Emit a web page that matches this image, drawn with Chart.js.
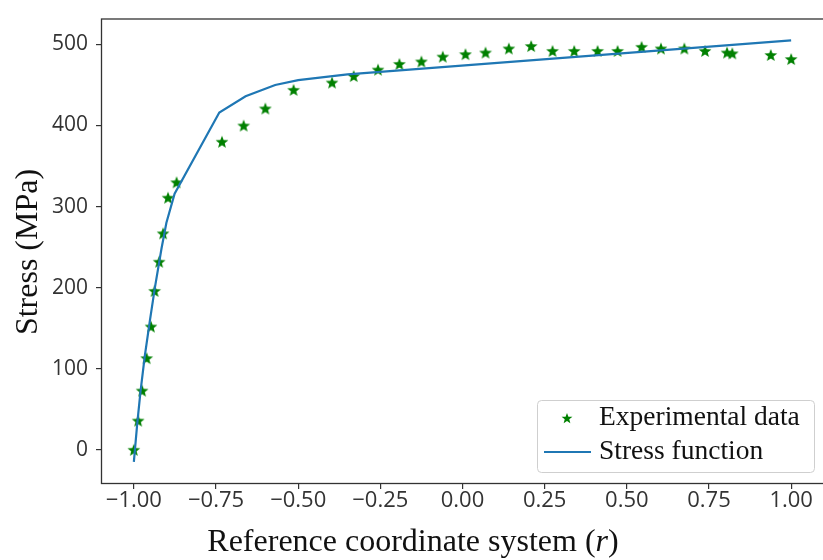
<!DOCTYPE html>
<html>
<head>
<meta charset="utf-8">
<script src="https://cdn.jsdelivr.net/npm/chart.js@4.4.1/dist/chart.umd.min.js"></script>
<style>
    html, body { margin: 0; padding: 0; background: #fff; overflow: hidden; }
    #wrap { position: relative; width: 829px; height: 560px; }
</style>
</head>
<body>
<div id="wrap"><canvas id="stress-chart"></canvas></div>
<script>
// --- Data ---
// Experimental points: reference coordinate r and stress (MPa)
const expR = [-1.0, -0.987, -0.975, -0.961, -0.948, -0.937, -0.923, -0.911, -0.896, -0.870,
    -0.732, -0.666, -0.600, -0.514, -0.397, -0.331, -0.257, -0.192, -0.125, -0.060,
    0.009, 0.070, 0.141, 0.209, 0.274, 0.340, 0.411, 0.472, 0.545, 0.604,
    0.675, 0.738, 0.805, 0.821, 0.938, 1.0];
const expStress = [0, 36, 73, 113, 152, 196, 232, 267, 311, 330,
    380, 400, 421, 444, 453, 461, 469, 476, 479, 485,
    488, 490, 495, 498, 492, 492, 492, 492, 497, 495,
    495, 492, 490, 489, 487, 482];

// Fitted stress function (polyline)
const fitR = [-1.0, -0.99, -0.98, -0.967, -0.951, -0.936, -0.916, -0.901, -0.876,
    -0.74, -0.66, -0.57, -0.50, -0.35, 1.0];
const fitStress = [-15, 31, 71, 115, 160, 200, 248, 280, 316,
    416, 436, 450, 456, 463, 505];

const xTicks = [-1.0, -0.75, -0.5, -0.25, 0, 0.25, 0.5, 0.75, 1.0];
const yTicks = [0, 100, 200, 300, 400, 500];
const seriesLabels = ['Experimental data', 'Stress function'];
const xTitleParts = ['Reference coordinate system (', 'r', ')'];
const yTitle = 'Stress (MPa)';

const GREEN = '#008000';
const BLUE = '#1f77b4';
const AXIS = '#333333';

// filled five point star used as the point style
function makeStar(size, color) {
    const c = document.createElement('canvas');
    c.width = size;
    c.height = size;
    const g = c.getContext('2d');
    const cx = size / 2, cy = size / 2 + 0.6;
    const ro = size / 2 - 0.3, ri = ro * 0.42;
    g.beginPath();
    for (let i = 0; i < 10; i++) {
        const r = i % 2 ? ri : ro;
        const a = -Math.PI / 2 + i * Math.PI / 5;
        g.lineTo(cx + r * Math.cos(a), cy + r * Math.sin(a));
    }
    g.closePath();
    g.fillStyle = color;
    g.fill();
    return c;
}
const starImg = makeStar(14, GREEN);
const legendStar = makeStar(12, GREEN);

const fmtX = v => (v < 0 ? '\u2212' : '') + Math.abs(v).toFixed(2);

// frame, axis titles and legend drawn on top of the chart
const decorPlugin = {
    id: 'decor',
    afterDraw(chart) {
        const ctx = chart.ctx;
        const a = chart.chartArea;
        ctx.save();

        // full box around the axes
        ctx.strokeStyle = AXIS;
        ctx.lineWidth = 1.3;
        ctx.strokeRect(a.left + 0.5, a.top + 0.5, a.right - a.left, a.bottom - a.top);

        // x title with italic r
        ctx.fillStyle = '#111';
        ctx.textBaseline = 'alphabetic';
        const normal = '32px "Liberation Serif", serif';
        const italic = 'italic 32px "Liberation Serif", serif';
        const widths = xTitleParts.map((t, i) => {
            ctx.font = i === 1 ? italic : normal;
            return ctx.measureText(t).width;
        });
        let x = 413 - widths.reduce((s, w) => s + w, 0) / 2;
        xTitleParts.forEach((t, i) => {
            ctx.font = i === 1 ? italic : normal;
            ctx.fillText(t, x, 551);
            x += widths[i];
        });

        // y title
        ctx.save();
        ctx.translate(37, 252);
        ctx.rotate(-Math.PI / 2);
        ctx.font = normal;
        ctx.textAlign = 'center';
        ctx.textBaseline = 'alphabetic';
        ctx.fillText(yTitle, 0, 0);
        ctx.restore();

        // legend box in the lower right corner
        const bw = 277, bh = 72;
        const bx = a.right - 10 - bw, by = a.bottom - 11 - bh;
        ctx.beginPath();
        ctx.roundRect(bx + 0.5, by + 0.5, bw, bh, 4);
        ctx.fillStyle = 'rgba(255,255,255,0.85)';
        ctx.fill();
        ctx.strokeStyle = '#cfcfcf';
        ctx.lineWidth = 1;
        ctx.stroke();

        const row1 = by + 18, row2 = by + 52;
        ctx.drawImage(legendStar, bx + 24, row1 - 6);
        ctx.strokeStyle = BLUE;
        ctx.lineWidth = 2.2;
        ctx.beginPath();
        ctx.moveTo(bx + 7, row2);
        ctx.lineTo(bx + 54, row2);
        ctx.stroke();

        ctx.fillStyle = '#111';
        ctx.font = '27.5px "Liberation Serif", serif';
        ctx.textAlign = 'left';
        ctx.textBaseline = 'middle';
        ctx.fillText(seriesLabels[0], bx + 62, row1);
        ctx.fillText(seriesLabels[1], bx + 62, row2);

        ctx.restore();
    }
};

const ctx = document.getElementById('stress-chart');
new Chart(ctx, {
    data: {
        datasets: [{
            type: 'line',
            label: seriesLabels[1],
            data: fitR.map((r, i) => ({ x: r, y: fitStress[i] })),
            borderColor: BLUE,
            borderWidth: 2.2,
            pointRadius: 0,
            tension: 0,
            fill: false,
            order: 0
        }, {
            type: 'scatter',
            label: seriesLabels[0],
            data: expR.map((r, i) => ({ x: r, y: expStress[i] })),
            pointStyle: starImg,
            borderColor: GREEN,
            backgroundColor: GREEN,
            order: 1
        }]
    },
    options: {
        responsive: true,
        maintainAspectRatio: false,
        animation: false,
        layout: { padding: { top: 8, right: 0, bottom: 0, left: 0 } },
        plugins: {
            legend: { display: false },
            tooltip: { enabled: false }
        },
        scales: {
            x: {
                type: 'linear',
                min: -1.1,
                max: 1.1,
                afterBuildTicks: s => { s.ticks = xTicks.map(v => ({ value: v })); },
                afterFit: s => { s.height = 77; },
                grid: { drawOnChartArea: false, drawTicks: true, tickLength: 6, color: AXIS, lineWidth: 1.2 },
                border: { display: false },
                ticks: {
                    callback: v => fmtX(v),
                    color: AXIS,
                    padding: 1,
                    maxRotation: 0,
                    font: { family: '"Open Sans", sans-serif', size: 22, lineHeight: 1 }
                }
            },
            y: {
                type: 'linear',
                min: -41,
                max: 532,
                afterBuildTicks: s => { s.ticks = yTicks.map(v => ({ value: v })); },
                afterFit: s => { s.width = 101; },
                grid: { drawOnChartArea: false, drawTicks: true, tickLength: 5, color: AXIS, lineWidth: 1.2 },
                border: { display: false },
                ticks: {
                    callback: v => String(v),
                    color: AXIS,
                    padding: 8,
                    font: { family: '"Open Sans", sans-serif', size: 21, lineHeight: 1 }
                }
            }
        }
    },
    plugins: [decorPlugin]
});
</script>
</body>
</html>
